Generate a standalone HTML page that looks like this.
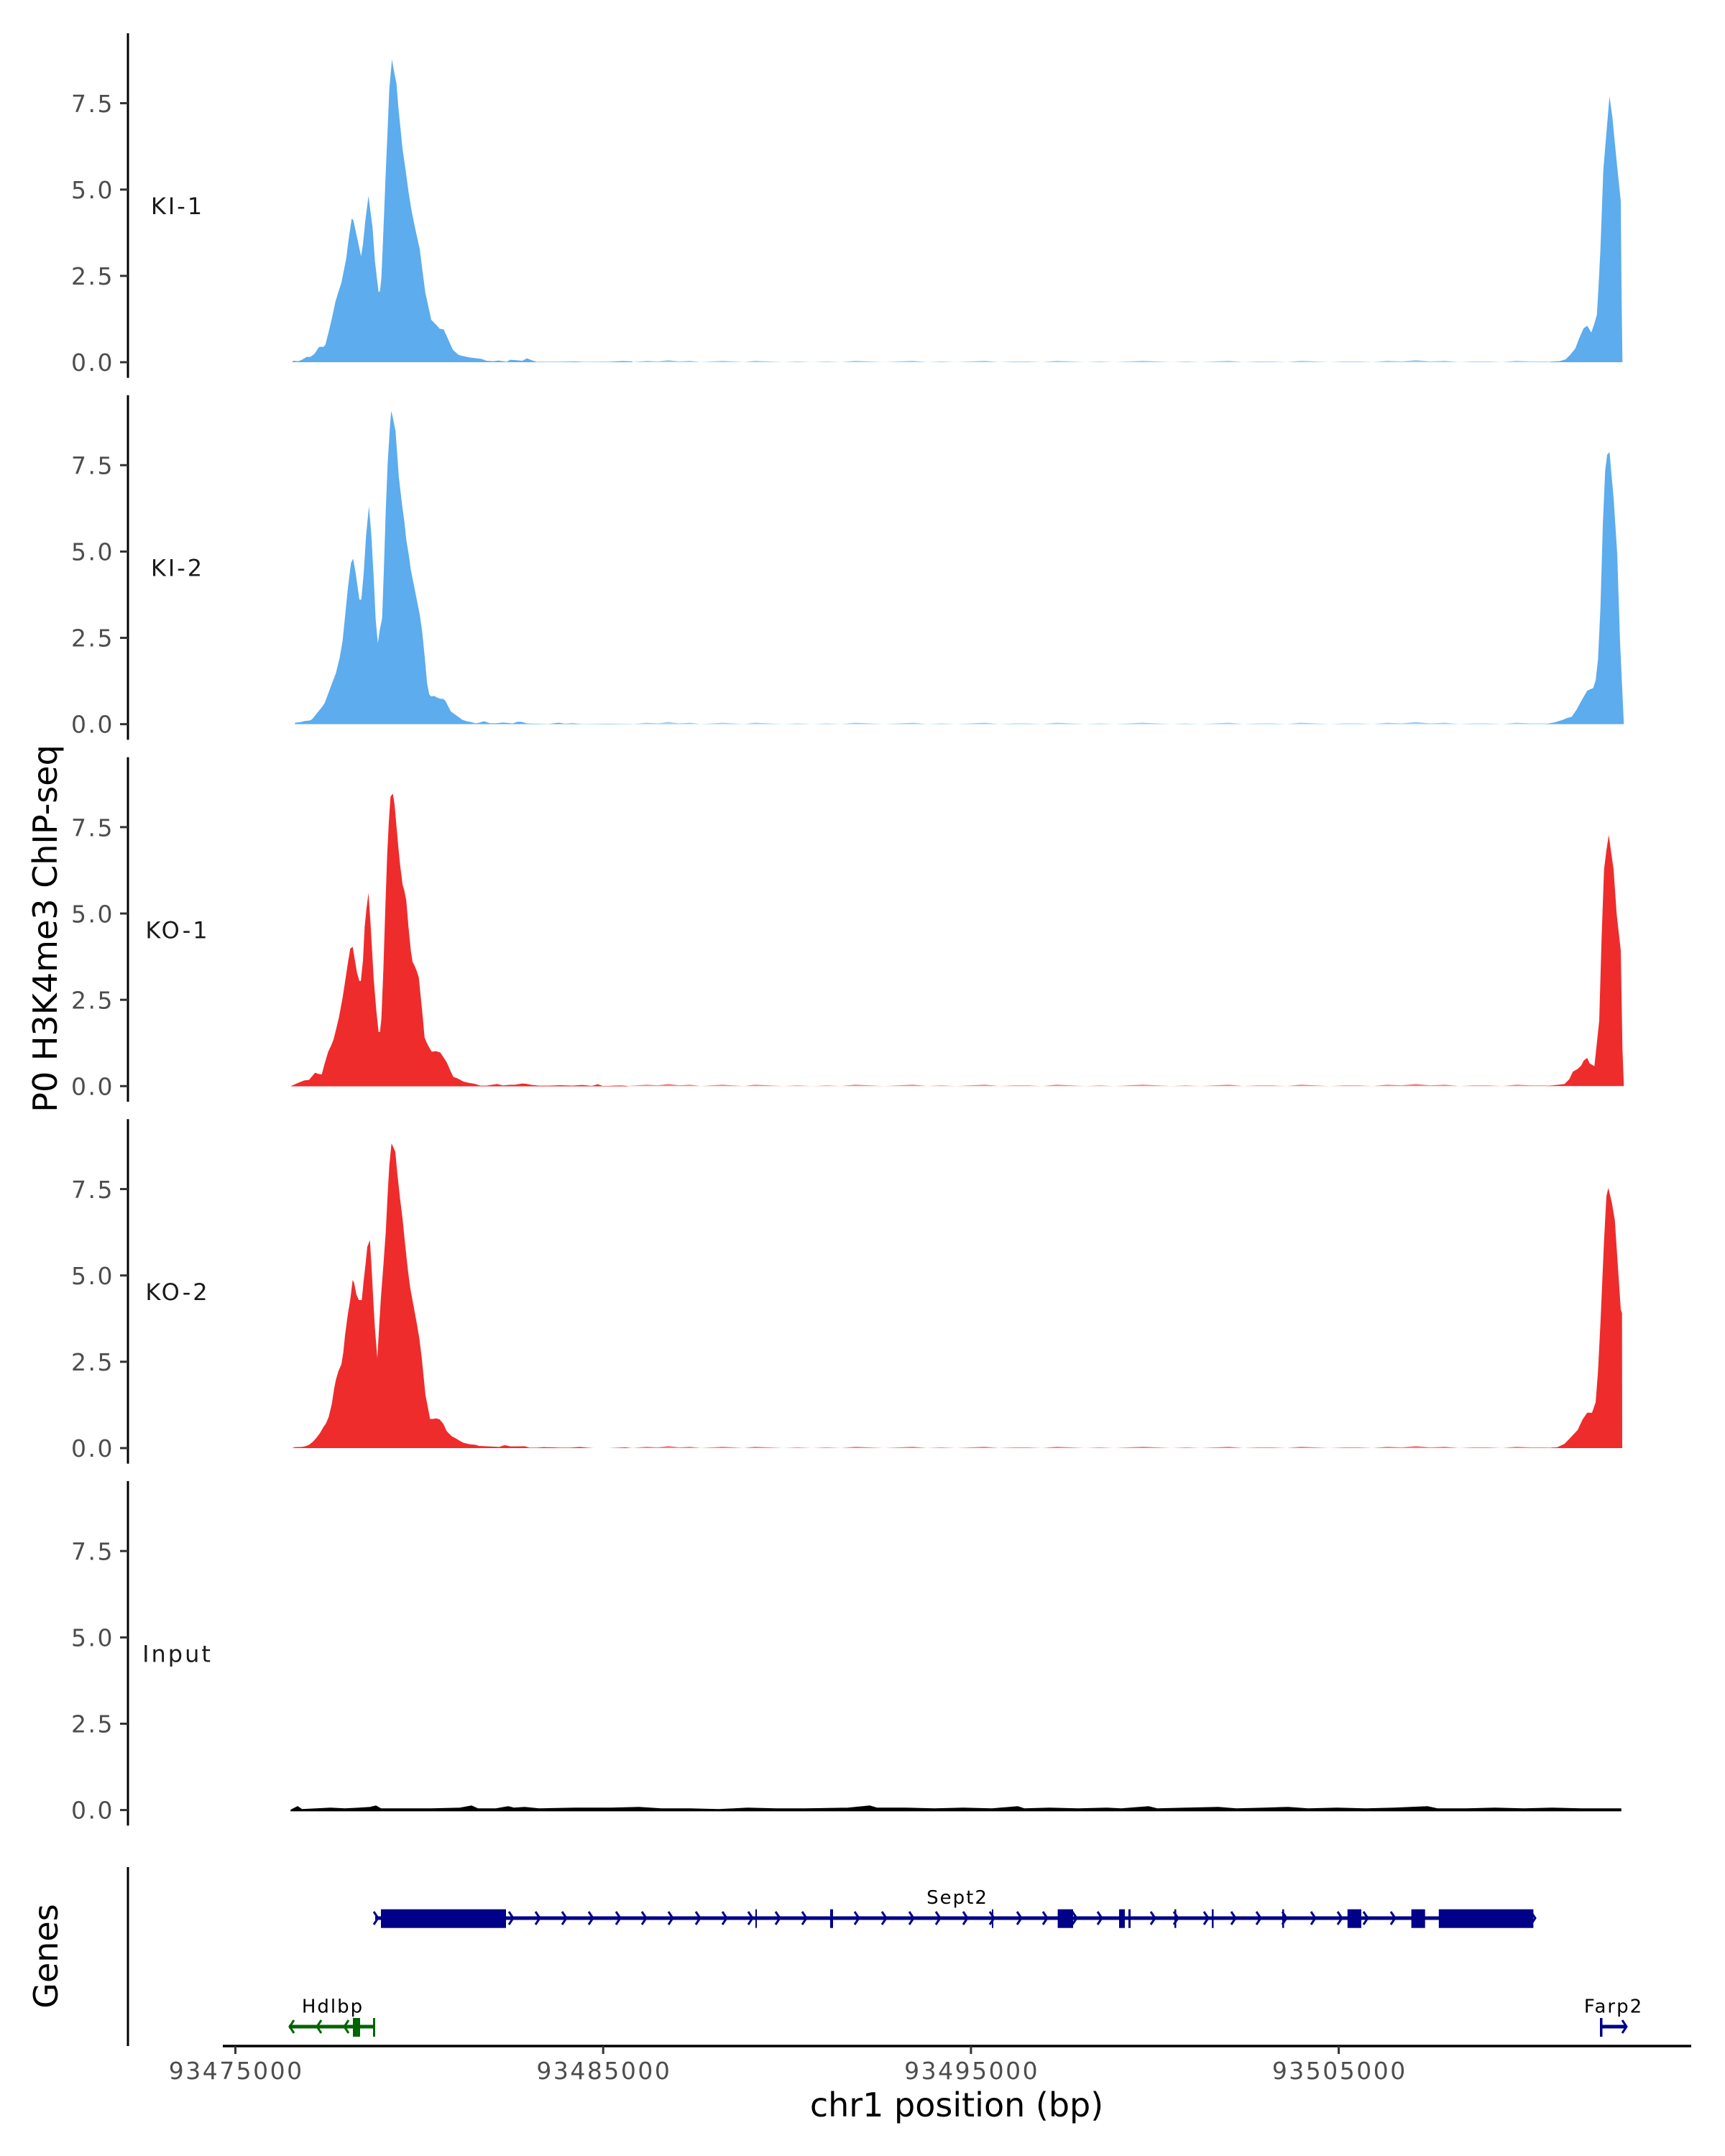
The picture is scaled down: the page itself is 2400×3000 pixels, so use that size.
<!DOCTYPE html>
<html><head><meta charset="utf-8"><style>
html,body{margin:0;padding:0;background:#fff;}
svg{display:block;}
text{font-family:"DejaVu Sans","Liberation Sans",sans-serif;}
.tl{font-size:33px;fill:#4D4D4D;letter-spacing:2.5px;}
.lab{font-size:32px;fill:#1a1a1a;letter-spacing:3px;}
.gl{font-size:26px;fill:#000;letter-spacing:2px;}
</style></head><body>
<svg width="2400" height="3000" viewBox="0 0 2400 3000" xmlns="http://www.w3.org/2000/svg">
<rect width="2400" height="3000" fill="#fff"/>

<!-- y title -->
<text x="79" y="1292" font-size="46" text-anchor="middle" transform="rotate(-90 79 1292)" fill="#000">P0 H3K4me3 ChIP-seq</text>
<text x="80" y="2722" font-size="46" text-anchor="middle" transform="rotate(-90 80 2722)" fill="#000">Genes</text>

<!-- Panel axes -->
<g id="axes">
<g transform="translate(0,504)">
<line x1="178" y1="-457.7" x2="178" y2="21.7" stroke="#000" stroke-width="3"/>
<g stroke="#333" stroke-width="3"><line x1="167" y1="0" x2="178" y2="0"/><line x1="167" y1="-120.1" x2="178" y2="-120.1"/><line x1="167" y1="-240.2" x2="178" y2="-240.2"/><line x1="167" y1="-360.4" x2="178" y2="-360.4"/></g>
<g class="tl" text-anchor="end"><text x="159" y="12">0.0</text><text x="159" y="-108">2.5</text><text x="159" y="-228">5.0</text><text x="159" y="-348">7.5</text></g>
<text class="lab" x="247" y="-206" text-anchor="middle">KI-1</text>
</g>
<g transform="translate(0,1007.65)">
<line x1="178" y1="-457.7" x2="178" y2="21.7" stroke="#000" stroke-width="3"/>
<g stroke="#333" stroke-width="3"><line x1="167" y1="0" x2="178" y2="0"/><line x1="167" y1="-120.1" x2="178" y2="-120.1"/><line x1="167" y1="-240.2" x2="178" y2="-240.2"/><line x1="167" y1="-360.4" x2="178" y2="-360.4"/></g>
<g class="tl" text-anchor="end"><text x="159" y="12">0.0</text><text x="159" y="-108">2.5</text><text x="159" y="-228">5.0</text><text x="159" y="-348">7.5</text></g>
<text class="lab" x="247" y="-206" text-anchor="middle">KI-2</text>
</g>
<g transform="translate(0,1511.3)">
<line x1="178" y1="-457.7" x2="178" y2="21.7" stroke="#000" stroke-width="3"/>
<g stroke="#333" stroke-width="3"><line x1="167" y1="0" x2="178" y2="0"/><line x1="167" y1="-120.1" x2="178" y2="-120.1"/><line x1="167" y1="-240.2" x2="178" y2="-240.2"/><line x1="167" y1="-360.4" x2="178" y2="-360.4"/></g>
<g class="tl" text-anchor="end"><text x="159" y="12">0.0</text><text x="159" y="-108">2.5</text><text x="159" y="-228">5.0</text><text x="159" y="-348">7.5</text></g>
<text class="lab" x="247" y="-206" text-anchor="middle">KO-1</text>
</g>
<g transform="translate(0,2014.95)">
<line x1="178" y1="-457.7" x2="178" y2="21.7" stroke="#000" stroke-width="3"/>
<g stroke="#333" stroke-width="3"><line x1="167" y1="0" x2="178" y2="0"/><line x1="167" y1="-120.1" x2="178" y2="-120.1"/><line x1="167" y1="-240.2" x2="178" y2="-240.2"/><line x1="167" y1="-360.4" x2="178" y2="-360.4"/></g>
<g class="tl" text-anchor="end"><text x="159" y="12">0.0</text><text x="159" y="-108">2.5</text><text x="159" y="-228">5.0</text><text x="159" y="-348">7.5</text></g>
<text class="lab" x="247" y="-206" text-anchor="middle">KO-2</text>
</g>
<g transform="translate(0,2518.6)">
<line x1="178" y1="-457.7" x2="178" y2="21.7" stroke="#000" stroke-width="3"/>
<g stroke="#333" stroke-width="3"><line x1="167" y1="0" x2="178" y2="0"/><line x1="167" y1="-120.1" x2="178" y2="-120.1"/><line x1="167" y1="-240.2" x2="178" y2="-240.2"/><line x1="167" y1="-360.4" x2="178" y2="-360.4"/></g>
<g class="tl" text-anchor="end"><text x="159" y="12">0.0</text><text x="159" y="-108">2.5</text><text x="159" y="-228">5.0</text><text x="159" y="-348">7.5</text></g>
<text class="lab" x="247" y="-206" text-anchor="middle">Input</text>
</g>
</g>

<!-- Panel 1 KI-1 -->
<g fill="#5CACEE">
<path transform="translate(380,40) scale(0.333333)" d="M78,1392 L85,1386 105,1388 120,1382 140,1370 155,1370 172,1358 192,1328 210,1328 218,1320 232,1265 245,1210 260,1140 272,1100 285,1060 295,1010 305,960 315,880 328,792 335,800 350,870 367,950 375,900 385,800 398,698 415,830 425,970 440,1100 446,1095 452,1040 460,850 470,600 478,420 485,250 496,128 505,180 515,230 522,320 530,400 540,500 553,590 565,680 578,760 590,820 612,920 622,1000 635,1100 648,1160 660,1215 680,1235 695,1252 712,1255 730,1295 750,1340 775,1362 800,1368 820,1372 850,1376 870,1378 890,1386 920,1388 940,1385 960,1388 975,1390 990,1382 1020,1384 1040,1386 1060,1376 1080,1384 1100,1390 1200,1390 1260,1389 1300,1391 1400,1390 1460,1387 1500,1389 L1500,1392 Z"/>
<path d="M2150,504 L2160,503 2170,502.5 2178.3,500 2185,493.3 2191.7,485 2197,471 2203.3,456.7 2208.3,453.3 2214,462.7 2218,451 2221.7,438.3 2224,400 2226.7,346.7 2230.7,236.7 2235,185 2239.3,134 2243.3,163.3 2249,222 2255,280 2256,400 2257.3,504 Z"/>
<path opacity="0.6" transform="translate(0,504)" d="M880,0 L900,-2 915,-1 930,-3 945,-1 960,-2 975,0 990,-1 1005,-2 1020,-1 1035,0 1050,-2 1070,-1 1090,0 1110,-1 1130,0 1150,-1 1170,0 1190,-2 1210,-1 1230,0 1250,-1 1270,-2 1290,0 1310,-1 1330,0 1350,-1 1370,-2 1390,0 1410,-1 1430,-1 1450,0 1470,-2 1490,-1 1510,0 1530,-1 1550,0 1570,-1 1590,-2 1610,-1 1630,0 1650,-1 1670,0 1690,-1 1710,-2 1730,0 1750,-1 1770,-1 1790,0 1810,-2 1830,-1 1850,0 1870,-1 1890,-1 1910,0 1930,-2 1950,-1 1970,-3 1990,-1 2010,-2 2030,0 2050,-1 2070,-1 2090,0 2110,-2 2130,-1 2150,-1 2160,0 Z"/>
</g>

<!-- Panel 2 KI-2 -->
<g fill="#5CACEE">
<path transform="translate(380,545) scale(0.333333)" d="M90,1388 L92,1382 120,1378 130,1375 155,1372 165,1365 185,1340 205,1315 215,1300 230,1260 245,1220 262,1175 278,1110 290,1040 300,940 312,820 325,715 334,697 345,760 360,868 368,868 378,760 388,600 400,478 410,600 420,780 428,950 437,1050 446,990 455,945 462,750 470,500 478,300 488,140 493,80 500,110 511,165 517,250 525,360 538,470 548,545 556,620 566,680 575,745 590,820 600,870 612,930 622,1000 632,1100 643,1220 652,1265 660,1272 672,1270 683,1276 698,1282 710,1282 720,1292 730,1312 742,1335 760,1348 790,1370 808,1376 830,1380 845,1385 860,1382 880,1376 905,1384 930,1384 960,1381 980,1383 1000,1385 1020,1378 1035,1378 1060,1385 1100,1386 1150,1387 1190,1382 1220,1386 1250,1384 1290,1387 1400,1386 1500,1387 L1500,1388 Z"/>
<path d="M2150,1007.65 L2163.3,1005 2173.3,1002 2180,999.3 2186.7,997.4 2193.3,987.8 2201.7,972.5 2208.3,961 2216.7,957.2 2220,946.7 2223.3,918 2226.7,846 2230,731 2233.3,654.8 2236,632.8 2239.3,629 2245,693 2250,769.7 2254,894 2259.3,1007.65 Z"/>
<path opacity="0.6" transform="translate(0,1007.65)" d="M880,0 L900,-2 915,-1 930,-3 945,-1 960,-2 975,0 990,-1 1005,-2 1020,-1 1035,0 1050,-2 1070,-1 1090,0 1110,-1 1130,0 1150,-1 1170,0 1190,-2 1210,-1 1230,0 1250,-1 1270,-2 1290,0 1310,-1 1330,0 1350,-1 1370,-2 1390,0 1410,-1 1430,-1 1450,0 1470,-2 1490,-1 1510,0 1530,-1 1550,0 1570,-1 1590,-2 1610,-1 1630,0 1650,-1 1670,0 1690,-1 1710,-2 1730,0 1750,-1 1770,-1 1790,0 1810,-2 1830,-1 1850,0 1870,-1 1890,-1 1910,0 1930,-2 1950,-1 1970,-3 1990,-1 2010,-2 2030,0 2050,-1 2070,-1 2090,0 2110,-2 2130,-1 2150,-1 2160,0 Z"/>
</g>

<!-- Panel 3 KO-1 -->
<g fill="#EE2C2C">
<path transform="translate(380,1050) scale(0.333333)" d="M72,1385 L100,1372 130,1360 150,1358 175,1328 190,1333 203,1335 215,1290 230,1240 242,1215 252,1190 262,1150 275,1095 290,1015 300,950 312,870 322,810 332,802 340,850 350,910 360,945 366,945 375,860 382,720 390,640 398,578 405,680 412,800 420,940 430,1060 440,1158 446,1158 452,1100 460,900 468,650 476,420 483,280 490,175 500,163 507,210 515,300 523,390 530,460 540,540 548,570 556,610 565,720 575,820 582,865 590,880 600,905 608,930 617,1020 625,1100 632,1180 640,1200 650,1220 662,1240 680,1238 698,1244 710,1262 725,1285 740,1320 752,1345 770,1352 795,1365 815,1370 840,1374 865,1382 890,1382 935,1375 960,1381 990,1378 1010,1378 1040,1373 1055,1374 1080,1379 1110,1382 1150,1382 1200,1380 1250,1382 1290,1379 1330,1383 1355,1376 1375,1383 1400,1383 1420,1382 1450,1381 1480,1383 L1480,1385 Z"/>
<path d="M2150,1511.3 L2176.7,1508.4 2183.3,1501.7 2188.3,1491.2 2195,1487.4 2200,1482.6 2203.3,1475.9 2208.3,1472 2211.7,1479.7 2218.3,1483.5 2225,1420.4 2228.3,1305.5 2231.7,1209.9 2235,1183 2238.3,1162 2245,1209.9 2249.3,1272 2255,1322.8 2257.3,1458.7 2259.3,1511.3 Z"/>
<path opacity="0.6" transform="translate(0,1511.3)" d="M870,0 L900,-2 915,-1 930,-3 945,-1 960,-2 975,0 990,-1 1005,-2 1020,-1 1035,0 1050,-2 1070,-1 1090,0 1110,-1 1130,0 1150,-1 1170,0 1190,-2 1210,-1 1230,0 1250,-1 1270,-2 1290,0 1310,-1 1330,0 1350,-1 1370,-2 1390,0 1410,-1 1430,-1 1450,0 1470,-2 1490,-1 1510,0 1530,-1 1550,0 1570,-1 1590,-2 1610,-1 1630,0 1650,-1 1670,0 1690,-1 1710,-2 1730,0 1750,-1 1770,-1 1790,0 1810,-2 1830,-1 1850,0 1870,-1 1890,-1 1910,0 1930,-2 1950,-1 1970,-3 1990,-1 2010,-2 2030,0 2050,-1 2070,-1 2090,0 2110,-2 2130,-1 2150,-1 2160,0 Z"/>
</g>

<!-- Panel 4 KO-2 -->
<g fill="#EE2C2C">
<path transform="translate(380,1555) scale(0.333333)" d="M80,1380 L90,1376 120,1375 135,1372 150,1366 165,1354 180,1338 195,1318 210,1292 220,1278 232,1250 245,1195 255,1130 262,1095 272,1060 285,1030 293,980 300,910 312,820 322,760 332,678 338,690 348,740 358,762 370,762 378,680 386,610 393,540 404,512 410,610 418,760 425,880 435,1005 442,880 450,750 460,620 470,480 478,320 485,200 494,108 500,120 510,143 518,230 530,340 540,420 552,540 563,640 572,710 585,780 598,850 610,920 620,1000 628,1080 636,1160 644,1200 655,1258 668,1258 680,1256 695,1260 710,1278 725,1310 745,1330 760,1338 780,1350 795,1358 820,1364 845,1366 860,1371 900,1373 945,1375 960,1369 970,1368 990,1373 1020,1373 1050,1372 1070,1378 1100,1378 1130,1376 1170,1377 1200,1378 1240,1378 1280,1375 1310,1378 1340,1380 1400,1380 1470,1377 1500,1380 Z"/>
<path d="M2150,2014.95 L2166.7,2013.7 2176.7,2009 2183.3,2002.2 2195,1989.8 2201.7,1975.4 2208.3,1965.8 2215,1965.8 2220,1951.4 2223.3,1908.4 2226.7,1841.4 2231.7,1726.6 2235,1664.4 2237.7,1652.9 2242.7,1674 2246.7,1697.9 2255,1822.3 2256.7,1827 2257,2014.95 Z"/>
<path opacity="0.6" transform="translate(0,2014.95)" d="M880,0 L900,-2 915,-1 930,-3 945,-1 960,-2 975,0 990,-1 1005,-2 1020,-1 1035,0 1050,-2 1070,-1 1090,0 1110,-1 1130,0 1150,-1 1170,0 1190,-2 1210,-1 1230,0 1250,-1 1270,-2 1290,0 1310,-1 1330,0 1350,-1 1370,-2 1390,0 1410,-1 1430,-1 1450,0 1470,-2 1490,-1 1510,0 1530,-1 1550,0 1570,-1 1590,-2 1610,-1 1630,0 1650,-1 1670,0 1690,-1 1710,-2 1730,0 1750,-1 1770,-1 1790,0 1810,-2 1830,-1 1850,0 1870,-1 1890,-1 1910,0 1930,-2 1950,-1 1970,-3 1990,-1 2010,-2 2030,0 2050,-1 2070,-1 2090,0 2110,-2 2130,-1 2150,-1 2160,0 Z"/>
</g>

<!-- Panel 5 Input -->
<path fill="#000" stroke="#000" stroke-width="1.5" d="M405,2518.6 L414,2514 420,2518 440,2517 460,2516 480,2517 500,2516 515,2515 523,2513 530,2517 560,2517 600,2517 640,2516 656,2513 665,2517 690,2517 707,2514 715,2516 730,2515 750,2517 800,2516 850,2516 889,2515 920,2517 960,2517 1000,2518 1040,2516 1080,2517 1120,2517 1180,2516 1210,2513 1220,2516 1260,2516 1300,2517 1340,2516 1380,2517 1416,2514 1425,2517 1460,2516 1500,2517 1540,2516 1560,2517 1598,2514 1610,2517 1650,2516 1695,2515 1720,2517 1760,2516 1792,2515 1820,2517 1860,2516 1900,2517 1940,2516 1986,2514 2000,2517 2040,2517 2080,2516 2120,2517 2160,2516 2200,2517 2255,2517 L2255,2519.6 405,2519.6 Z"/>

<!-- Genes panel axis -->
<line x1="178" y1="2598" x2="178" y2="2847" stroke="#000" stroke-width="3"/>

<!-- Sept2 -->
<g fill="#000088" stroke="none">
<rect x="522" y="2666.5" width="1611" height="5"/>
<rect x="530" y="2656.7" width="174" height="26"/>
<rect x="1051" y="2656.7" width="2" height="26"/>
<rect x="1155" y="2656.7" width="4" height="26"/>
<rect x="1380" y="2656.7" width="2" height="26"/>
<rect x="1471.6" y="2656.7" width="21.4" height="26"/>
<rect x="1557" y="2656.7" width="8" height="26"/>
<rect x="1570" y="2656.7" width="3" height="26"/>
<rect x="1634" y="2656.7" width="2.5" height="26"/>
<rect x="1686" y="2656.7" width="2.5" height="26"/>
<rect x="1784" y="2656.7" width="2.5" height="26"/>
<rect x="1874.8" y="2656.7" width="19.2" height="26"/>
<rect x="1963.6" y="2656.7" width="19.1" height="26"/>
<rect x="2001.8" y="2656.7" width="131.6" height="26"/>
</g>
<g fill="none" stroke="#000088" stroke-width="3">
<polyline points="520,2660 526,2669 520,2678"/>
<polyline points="708,2660 714,2669 708,2678"/>
<polyline points="745,2660 751,2669 745,2678"/>
<polyline points="782,2660 788,2669 782,2678"/>
<polyline points="819,2660 825,2669 819,2678"/>
<polyline points="857,2660 863,2669 857,2678"/>
<polyline points="893,2660 899,2669 893,2678"/>
<polyline points="930,2660 936,2669 930,2678"/>
<polyline points="968,2660 974,2669 968,2678"/>
<polyline points="1005,2660 1011,2669 1005,2678"/>
<polyline points="1041,2660 1047,2669 1041,2678"/>
<polyline points="1079,2660 1085,2669 1079,2678"/>
<polyline points="1116,2660 1122,2669 1116,2678"/>
<polyline points="1189,2660 1195,2669 1189,2678"/>
<polyline points="1227,2660 1233,2669 1227,2678"/>
<polyline points="1265,2660 1271,2669 1265,2678"/>
<polyline points="1302,2660 1308,2669 1302,2678"/>
<polyline points="1340,2660 1346,2669 1340,2678"/>
<polyline points="1377,2660 1383,2669 1377,2678"/>
<polyline points="1415,2660 1421,2669 1415,2678"/>
<polyline points="1451,2660 1457,2669 1451,2678"/>
<polyline points="1492,2660 1498,2669 1492,2678"/>
<polyline points="1527,2660 1533,2669 1527,2678"/>
<polyline points="1601,2660 1607,2669 1601,2678"/>
<polyline points="1633,2660 1639,2669 1633,2678"/>
<polyline points="1675,2660 1681,2669 1675,2678"/>
<polyline points="1713,2660 1719,2669 1713,2678"/>
<polyline points="1748,2660 1754,2669 1748,2678"/>
<polyline points="1784,2660 1790,2669 1784,2678"/>
<polyline points="1824,2660 1830,2669 1824,2678"/>
<polyline points="1861,2660 1867,2669 1861,2678"/>
<polyline points="1897,2660 1903,2669 1897,2678"/>
<polyline points="1935,2660 1941,2669 1935,2678"/>
<polyline points="2130,2660 2136,2669 2130,2678"/>
</g>
<text class="gl" x="1332" y="2649" text-anchor="middle">Sept2</text>

<!-- Hdlbp -->
<g fill="#006400">
<rect x="402" y="2817.5" width="120" height="5"/>
<rect x="491" y="2808" width="10" height="26"/>
<rect x="519" y="2808" width="3" height="26"/>
</g>
<g fill="none" stroke="#006400" stroke-width="3">
<polyline points="409,2811 403,2820 409,2829"/>
<polyline points="447,2811 441,2820 447,2829"/>
<polyline points="485,2811 479,2820 485,2829"/>
</g>
<text class="gl" x="463" y="2800.7" text-anchor="middle">Hdlbp</text>

<!-- Farp2 -->
<g fill="#000088">
<rect x="2227" y="2817.5" width="36" height="5"/>
<rect x="2226" y="2808" width="3.5" height="26"/>
</g>
<polyline points="2257,2811 2263,2820 2257,2829" fill="none" stroke="#000088" stroke-width="3"/>
<text class="gl" x="2245" y="2800.7" text-anchor="middle">Farp2</text>

<!-- X axis -->
<line x1="310" y1="2847" x2="2353" y2="2847" stroke="#000" stroke-width="3.5"/>
<g stroke="#333" stroke-width="3">
<line x1="327.5" y1="2847" x2="2327.5" y2="2847" stroke="none"/>
<line x1="327.5" y1="2847" x2="327.5" y2="2858"/>
<line x1="839.2" y1="2847" x2="839.2" y2="2858"/>
<line x1="1350.9" y1="2847" x2="1350.9" y2="2858"/>
<line x1="1862.6" y1="2847" x2="1862.6" y2="2858"/>
</g>
<g class="tl" text-anchor="middle">
<text x="328.7" y="2893">93475000</text>
<text x="840.4" y="2893">93485000</text>
<text x="1352.1" y="2893">93495000</text>
<text x="1863.8" y="2893">93505000</text>
</g>
<text x="1331" y="2945" font-size="46" text-anchor="middle" fill="#000">chr1 position (bp)</text>
</svg>
</body></html>
